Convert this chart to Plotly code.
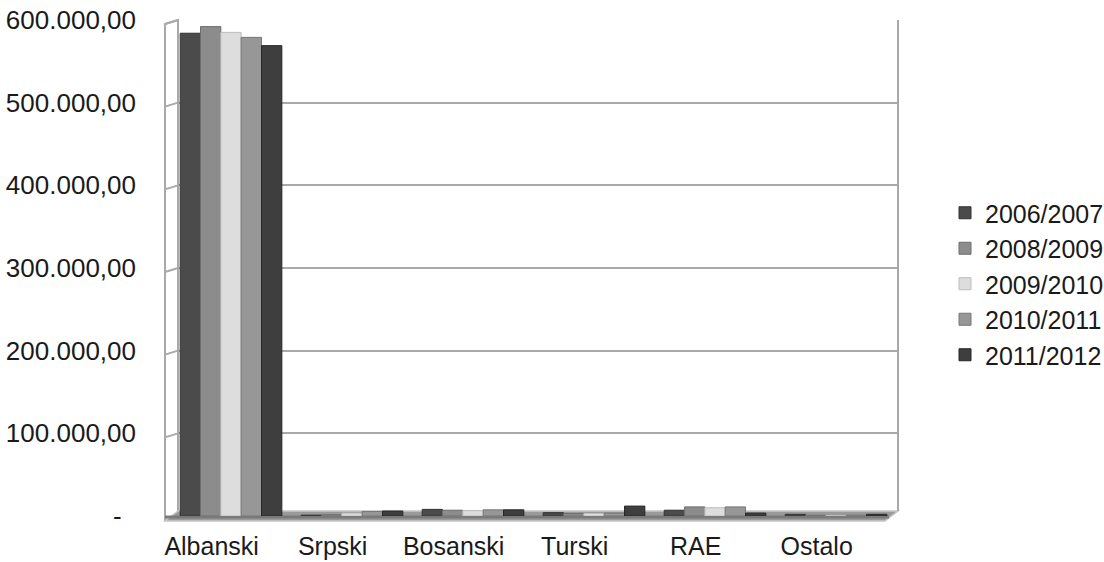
import plotly.graph_objects as go

# Broj učenika po jeziku nastave, po školskim godinama
categories = ["Albanski", "Srpski", "Bosanski", "Turski", "RAE", "Ostalo"]
years = ["2006/2007", "2008/2009", "2009/2010", "2010/2011", "2011/2012"]

v_2006_2007 = [584000, 1000, 8000, 4000, 7000, 2000]
v_2008_2009 = [592000, 1500, 7000, 3000, 11000, 1000]
v_2009_2010 = [585000, 3500, 6500, 3000, 10000, 500]
v_2010_2011 = [579000, 5500, 7500, 3500, 11000, 1000]
v_2011_2012 = [569000, 6000, 7500, 12000, 3500, 2000]

series = [v_2006_2007, v_2008_2009, v_2009_2010, v_2010_2011, v_2011_2012]
colors = ["#4b4b4b", "#8c8c8c", "#dddddd", "#979797", "#3e3e3e"]
edge_colors = ["#333333", "#6e6e6e", "#bdbdbd", "#777777", "#262626"]

y_ticks = [0, 100000, 200000, 300000, 400000, 500000, 600000]
y_tick_text = ["-\u00a0\u00a0", "100.000,00", "200.000,00", "300.000,00",
               "400.000,00", "500.000,00", "600.000,00"]

FONT = "Liberation Sans, Arial, sans-serif"

fig = go.Figure()
xs = list(range(len(categories)))
for name, vals, col, ecol in zip(years, series, colors, edge_colors):
    fig.add_trace(go.Bar(
        x=xs, y=vals, name=name, legendgroup=name,
        marker=dict(color=col, line=dict(color=ecol, width=1)),
        hoverinfo="name+y",
    ))

# plot area geometry in pixels (used for the wall/floor decoration)
W, H = 1104, 562
L, R, T, B = 178, 898, 20, 516
pw, ph = R - L, B - T


def px_x(p):
    return (p - L) / pw


def px_y(p):
    return (B - p) / ph


shapes = []
line_col = "#a9a9a9"
# left side wall
shapes.append(dict(type="path", xref="paper", yref="paper",
                   path=f"M {px_x(165)},{px_y(520)} L {px_x(165)},{px_y(24)} "
                        f"L {px_x(L)},{px_y(T)} L {px_x(L)},{px_y(B)} Z",
                   fillcolor="white", line=dict(color=line_col, width=2), layer="below"))
# slanted grid segments on the side wall
for v in y_ticks[1:]:
    yb = v / y_ticks[-1]
    shapes.append(dict(type="line", xref="paper", yref="paper",
                       x0=px_x(165), y0=yb - 4 / ph, x1=0, y1=yb,
                       line=dict(color=line_col, width=2), layer="below"))
# floor
shapes.append(dict(type="path", xref="paper", yref="paper",
                   path=f"M {px_x(165)},{px_y(521)} L {px_x(885)},{px_y(521)} "
                        f"L {px_x(R)},{px_y(511)} L {px_x(L)},{px_y(511)} Z",
                   fillcolor="#9a9a9a", line=dict(color="#c8c8c8", width=1.5), layer="below"))
shapes.append(dict(type="line", xref="paper", yref="paper",
                   x0=px_x(165), y0=px_y(517), x1=px_x(889), y1=px_y(517),
                   line=dict(color="#7a7a7a", width=3), layer="below"))
# right edge of the back wall
shapes.append(dict(type="line", xref="paper", yref="paper",
                   x0=1, y0=px_y(511), x1=1, y1=1,
                   line=dict(color=line_col, width=2), layer="below"))

fig.update_layout(
    width=W, height=H,
    margin=dict(l=L, r=W - R, t=T, b=H - B, autoexpand=False),
    paper_bgcolor="white", plot_bgcolor="white",
    barmode="group", bargap=0.16, bargroupgap=0.0,
    font=dict(family=FONT, size=25, color="#1a1a1a"),
    shapes=shapes,
    showlegend=True,
    legend=dict(x=(945 - L) / pw, y=px_y(284), yanchor="middle", xanchor="left",
                font=dict(size=25, color="#1a1a1a"), itemwidth=30,
                bgcolor="rgba(0,0,0,0)", tracegroupgap=0, traceorder="grouped"),
    xaxis=dict(range=[-0.438, 5.512], tickmode="array",
               tickvals=[i - 0.16 for i in xs], ticktext=categories,
               showgrid=False, zeroline=False, showline=False, ticks="",
               ticklabelstandoff=13, tickfont=dict(size=25)),
    yaxis=dict(range=[0, 600000], tickmode="array", tickvals=y_ticks,
               ticktext=y_tick_text, showgrid=True, gridcolor=line_col, gridwidth=2,
               zeroline=False, showline=False, ticks="", ticklabelstandoff=41,
               tickfont=dict(size=26)),
)

fig.write_html("out.html")
